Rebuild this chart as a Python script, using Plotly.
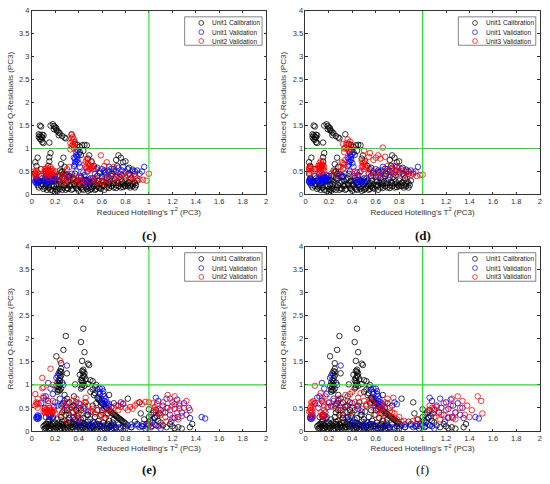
import plotly.graph_objects as go

# ---------------- data ----------------
cal_cd = [
    (0.07,1.50),(0.08,1.48),(0.06,1.31),(0.07,1.29),(0.08,1.26),(0.09,1.24),(0.07,1.21),(0.08,1.19),(0.09,1.14),
    (0.10,1.12),(0.10,1.29),(0.06,1.25),(0.09,1.30),
    (0.16,1.50),(0.18,1.53),(0.19,1.49),(0.20,1.46),(0.21,1.44),(0.21,1.40),(0.22,1.38),(0.23,1.35),(0.24,1.33),
    (0.23,1.29),(0.26,1.27),(0.28,1.24),(0.29,1.22),(0.15,1.13),(0.19,1.42),
    (0.34,1.31),(0.37,1.10),(0.39,1.08),(0.41,1.04),(0.43,1.07),(0.45,1.08),(0.47,1.07),(0.39,0.97),(0.41,0.92),
    (0.42,0.86),(0.44,0.95),
    (0.03,0.70),(0.05,0.80),(0.04,0.62),(0.08,0.55),(0.15,0.81),(0.16,0.90),(0.15,0.72),(0.14,0.62),(0.27,0.80),
    (0.25,0.66),(0.28,0.60),(0.49,0.85),(0.48,0.78),(0.51,0.72),(0.53,0.62),(0.56,0.58),(0.74,0.85),(0.76,0.80),
    (0.72,0.75),(0.78,0.70),(0.80,0.72),(0.73,0.62),(0.68,0.56),(0.83,0.58),(0.86,0.54),(0.88,0.50),(0.62,0.52),(0.70,0.50),
    (0.03,0.45),(0.04,0.35),(0.05,0.20),(0.06,0.15),(0.07,0.28),(0.08,0.40),(0.09,0.22),(0.10,0.12),
    (0.11,0.30),(0.12,0.18),(0.13,0.10),(0.14,0.25),(0.15,0.15),(0.16,0.38),(0.17,0.20),(0.18,0.08),(0.19,0.30),
    (0.20,0.12),(0.20,0.05),(0.21,0.22),(0.22,0.40),(0.23,0.15),(0.24,0.28),(0.25,0.48),(0.26,0.10),(0.27,0.33),
    (0.28,0.20),(0.29,0.45),(0.30,0.14),(0.24,0.52),(0.26,0.50),(0.22,0.08),
    (0.31,0.28),(0.32,0.40),(0.33,0.18),(0.34,0.10),(0.35,0.32),(0.36,0.22),(0.37,0.45),(0.38,0.14),(0.39,0.30),
    (0.40,0.08),(0.41,0.20),(0.42,0.36),(0.43,0.12),(0.44,0.26),(0.45,0.42),(0.46,0.15),(0.47,0.30),(0.48,0.08),
    (0.49,0.22),(0.50,0.35),(0.51,0.12),(0.52,0.28),(0.53,0.18),(0.54,0.10),(0.55,0.25),(0.56,0.40),(0.57,0.15),
    (0.58,0.22),(0.59,0.12),(0.60,0.30),
    (0.61,0.18),(0.62,0.10),(0.63,0.25),(0.64,0.35),(0.65,0.20),(0.66,0.14),(0.67,0.28),(0.68,0.40),(0.69,0.22),
    (0.70,0.15),(0.71,0.32),(0.72,0.20),(0.73,0.26),(0.74,0.18),(0.75,0.38),(0.76,0.22),(0.77,0.28),(0.78,0.16),
    (0.79,0.20),(0.80,0.30),(0.81,0.22),(0.82,0.18),(0.83,0.26),(0.84,0.20),(0.85,0.35),(0.86,0.22),(0.87,0.28),
    (0.88,0.24),(0.89,0.20),(0.90,0.30),(0.69,0.45),(0.77,0.42),(0.83,0.45),(0.58,0.46),(0.63,0.48),
    (0.12,0.22),(0.13,0.32),(0.14,0.15),(0.16,0.10),(0.17,0.28),(0.18,0.35),(0.19,0.18),(0.21,0.10),(0.22,0.30),
    (0.23,0.22),(0.24,0.12),(0.25,0.20),(0.26,0.35),(0.27,0.15),(0.28,0.40),(0.29,0.10),(0.30,0.25),(0.31,0.12),
    (0.32,0.20),(0.33,0.30),(0.34,0.22),(0.35,0.12),(0.36,0.35),(0.37,0.20),(0.38,0.28),(0.39,0.12),(0.40,0.22),
    (0.41,0.30),(0.42,0.15),(0.43,0.25),(0.44,0.10),(0.45,0.20),(0.46,0.32),(0.47,0.12),(0.48,0.28),(0.49,0.15),
    (0.50,0.10),(0.51,0.25),(0.52,0.15),(0.53,0.30),(0.54,0.22),(0.55,0.12),(0.56,0.18),(0.57,0.30),(0.58,0.14),
    (0.60,0.20),(0.61,0.28),(0.62,0.20),(0.64,0.15),(0.65,0.28),(0.66,0.22),(0.68,0.18),(0.70,0.25),(0.72,0.14),
    (0.74,0.25),(0.76,0.15),(0.78,0.24),(0.80,0.18),(0.82,0.25),(0.84,0.15),(0.86,0.18),(0.88,0.15),(0.06,0.30),
    (0.08,0.18),(0.09,0.35),(0.11,0.15),(0.20,0.40),(0.27,0.45),(0.31,0.38),(0.21,0.32),(0.15,0.35),
]

val1_cd = [
    (0.03,0.27),(0.04,0.30),(0.05,0.25),(0.04,0.33),(0.05,0.28),(0.04,0.24),(0.03,0.30),(0.05,0.32),(0.06,0.26),
    (0.10,0.30),(0.11,0.35),(0.12,0.28),(0.13,0.40),(0.14,0.32),(0.15,0.26),(0.16,0.38),(0.17,0.30),(0.18,0.42),
    (0.19,0.34),(0.20,0.28),(0.12,0.45),(0.11,0.28),(0.13,0.30),(0.14,0.38),(0.15,0.34),(0.16,0.30),(0.17,0.36),
    (0.18,0.32),(0.19,0.40),(0.13,0.25),(0.15,0.42),
    (0.36,0.62),(0.37,0.70),(0.37,0.78),(0.38,0.85),(0.38,0.92),(0.39,0.75),(0.40,0.68),(0.40,0.88),(0.36,0.80),
    (0.41,0.60),(0.37,0.65),(0.39,0.82),(0.38,0.72),
    (0.28,0.35),(0.30,0.42),(0.32,0.38),(0.34,0.45),(0.42,0.40),(0.44,0.48),(0.46,0.30),(0.48,0.25),(0.50,0.28),
    (0.46,0.22),(0.52,0.35),(0.54,0.45),(0.56,0.40),(0.58,0.50),(0.60,0.55),(0.62,0.48),(0.63,0.42),(0.65,0.52),
    (0.66,0.60),(0.68,0.45),(0.70,0.55),(0.72,0.50),(0.74,0.58),(0.75,0.45),(0.77,0.52),(0.78,0.60),(0.80,0.48),
    (0.82,0.55),(0.84,0.42),(0.86,0.50),(0.88,0.45),(0.90,0.52),(0.92,0.45),(0.94,0.50),(0.96,0.60),(0.66,0.35),
    (0.60,0.38),(0.72,0.38),(0.55,0.55),(0.47,0.50),(0.38,0.50),
    (0.42,0.28),(0.44,0.32),(0.45,0.26),(0.47,0.30),(0.49,0.32),
]

unit2_c = [
    (0.02,0.50),(0.03,0.45),(0.04,0.52),(0.03,0.40),(0.05,0.48),(0.04,0.38),(0.03,0.48),(0.04,0.44),
    (0.10,0.45),(0.11,0.55),(0.12,0.50),(0.13,0.58),(0.14,0.48),(0.15,0.52),(0.16,0.42),(0.17,0.55),(0.18,0.38),
    (0.19,0.46),(0.12,0.40),(0.14,0.36),(0.16,0.60),(0.20,0.50),(0.11,0.50),(0.12,0.56),(0.13,0.44),(0.14,0.54),
    (0.15,0.46),(0.16,0.50),(0.17,0.48),(0.18,0.52),(0.13,0.52),
    (0.34,1.30),(0.35,1.25),(0.33,1.12),(0.34,1.05),(0.36,1.00),(0.35,1.08),(0.37,1.14),(0.33,0.98),(0.36,1.20),
    (0.34,1.22),(0.35,1.15),(0.36,1.05),
    (0.45,0.65),(0.46,0.72),(0.47,0.58),(0.48,0.68),(0.49,0.55),(0.50,0.62),(0.51,0.70),(0.52,0.60),(0.53,0.55),
    (0.48,0.50),(0.47,0.78),(0.59,0.85),(0.64,0.70),(0.62,0.62),(0.46,0.60),(0.49,0.64),(0.50,0.56),(0.51,0.58),
    (0.22,0.30),(0.24,0.38),(0.26,0.25),(0.28,0.45),(0.30,0.35),(0.32,0.28),(0.34,0.40),(0.36,0.32),(0.38,0.25),
    (0.40,0.38),(0.42,0.30),(0.44,0.22),(0.55,0.25),(0.56,0.32),(0.58,0.20),(0.60,0.28),(0.62,0.35),(0.64,0.22),
    (0.66,0.30),(0.68,0.42),(0.70,0.35),(0.72,0.28),(0.74,0.40),(0.76,0.32),(0.78,0.45),(0.80,0.38),(0.82,0.42),
    (0.84,0.35),(0.86,0.30),(0.88,0.40),(0.90,0.35),(0.92,0.32),(0.95,0.32),(0.98,0.30),(1.00,0.45),(0.30,0.55),
    (0.32,0.60),(0.70,0.60),(0.40,0.30),(0.45,0.28),(0.50,0.30),(0.54,0.35),(0.26,0.40),(0.29,0.30),
]

unit3_d = [
    (0.03,0.55),(0.04,0.60),(0.05,0.50),(0.04,0.46),(0.03,0.58),(0.04,0.55),(0.05,0.58),
    (0.10,0.55),(0.11,0.62),(0.12,0.68),(0.13,0.58),(0.14,0.65),(0.15,0.70),(0.16,0.60),(0.12,0.50),(0.14,0.48),
    (0.16,0.52),(0.11,0.46),(0.15,0.55),(0.13,0.72),(0.11,0.58),(0.12,0.62),(0.13,0.64),(0.14,0.58),(0.15,0.64),
    (0.12,0.56),(0.13,0.52),
    (0.36,1.20),(0.38,1.15),(0.32,1.10),(0.34,1.02),(0.37,0.95),(0.40,1.05),(0.35,1.08),(0.39,0.98),(0.33,0.92),
    (0.35,1.12),(0.37,1.05),(0.33,1.00),(0.36,0.98),
    (0.30,0.60),(0.31,0.70),(0.32,0.55),(0.33,0.65),(0.34,0.75),(0.32,0.68),(0.33,0.58),
    (0.48,0.60),(0.49,0.68),(0.50,0.55),(0.51,0.65),(0.52,0.58),(0.48,0.72),(0.49,0.62),(0.50,0.70),(0.51,0.60),
    (0.50,0.95),(0.55,0.90),(0.66,1.02),(0.60,0.80),(0.62,0.85),(0.68,0.82),(0.58,0.75),(0.54,0.82),(0.64,0.78),
    (0.22,0.45),(0.25,0.50),(0.28,0.42),(0.40,0.45),(0.42,0.50),(0.44,0.40),(0.46,0.48),(0.54,0.45),(0.56,0.50),
    (0.58,0.42),(0.60,0.48),(0.62,0.40),(0.66,0.45),(0.70,0.50),(0.72,0.42),(0.74,0.55),(0.76,0.48),(0.78,0.52),
    (0.80,0.45),(0.82,0.50),(0.84,0.40),(0.86,0.48),(0.88,0.45),(0.90,0.42),(0.92,0.48),(0.95,0.40),(0.98,0.42),
    (1.00,0.43),(0.76,0.62),(0.80,0.58),(0.70,0.62),
]

cal_ef = [
    (0.29,2.06),(0.27,1.76),(0.21,1.62),(0.42,1.93),(0.44,2.22),(0.45,1.71),(0.43,1.52),(0.25,1.47),(0.48,1.46),
    (0.49,1.43),(0.30,1.25),(0.37,1.01),
    (0.22,0.90),(0.23,0.95),(0.24,1.00),(0.22,1.05),(0.23,1.10),(0.24,1.15),(0.25,1.20),(0.23,1.25),(0.24,1.30),
    (0.25,1.35),(0.22,0.85),(0.24,0.88),(0.26,1.05),(0.21,0.98),(0.25,0.92),(0.23,1.02),(0.24,1.08),(0.23,0.88),
    (0.25,1.28),(0.24,1.22),
    (0.42,0.92),(0.43,1.00),(0.44,1.05),(0.42,1.10),(0.43,1.15),(0.44,1.20),(0.45,1.25),(0.43,1.30),(0.44,1.33),
    (0.46,1.12),(0.45,0.98),(0.41,1.22),(0.43,1.08),(0.44,1.28),(0.43,0.95),(0.45,1.18),
    (0.50,1.10),(0.52,1.08),(0.54,0.96),(0.55,1.00),(0.48,1.02),
    (0.50,0.85),(0.53,0.78),(0.56,0.72),(0.58,0.66),(0.60,0.60),(0.62,0.55),(0.64,0.50),(0.66,0.45),(0.68,0.40),
    (0.70,0.36),(0.72,0.32),(0.74,0.28),(0.76,0.24),(0.78,0.20),(0.80,0.16),(0.55,0.60),(0.60,0.45),(0.65,0.38),
    (0.70,0.25),(0.66,0.78),(0.70,0.60),(0.82,0.70),(0.74,0.55),
    (0.52,0.90),(0.54,0.82),(0.57,0.68),(0.59,0.62),(0.61,0.58),(0.63,0.52),(0.67,0.42),(0.69,0.38),(0.71,0.34),
    (0.73,0.30),(0.75,0.26),(0.77,0.22),(0.79,0.18),
    (0.28,0.78),(0.30,0.70),(0.32,0.62),(0.35,0.55),(0.38,0.62),(0.40,0.50),(0.36,0.75),(0.27,0.60),(0.25,0.55),
    (0.10,0.10),(0.11,0.05),(0.12,0.15),(0.13,0.08),(0.14,0.20),(0.15,0.05),(0.16,0.12),(0.18,0.08),(0.20,0.18),
    (0.21,0.06),(0.22,0.25),(0.23,0.12),(0.24,0.04),(0.25,0.30),(0.26,0.15),(0.27,0.08),(0.28,0.22),(0.29,0.35),
    (0.30,0.12),(0.31,0.05),(0.32,0.28),(0.33,0.18),(0.34,0.08),(0.35,0.40),(0.36,0.15),(0.37,0.25),(0.38,0.05),
    (0.39,0.32),(0.40,0.12),(0.41,0.20),(0.42,0.45),(0.43,0.08),(0.44,0.28),(0.45,0.15),(0.46,0.05),(0.47,0.35),
    (0.48,0.20),(0.49,0.10),(0.50,0.25),(0.51,0.42),(0.52,0.08),(0.53,0.18),(0.54,0.30),(0.55,0.05),(0.56,0.15),
    (0.57,0.22),(0.58,0.10),(0.59,0.35),(0.60,0.05),(0.61,0.18),(0.62,0.12),(0.63,0.28),(0.64,0.06),(0.65,0.15),
    (0.66,0.22),(0.67,0.10),(0.68,0.05),(0.69,0.18),(0.70,0.12),(0.72,0.08),(0.74,0.14),(0.76,0.06),(0.78,0.10),
    (0.80,0.05),(0.82,0.12),(0.85,0.08),(0.18,0.30),(0.15,0.25),(0.12,0.30),(0.17,0.40),(0.30,0.45),(0.34,0.52),
    (0.45,0.55),(0.40,0.38),
    (0.11,0.12),(0.12,0.06),(0.13,0.14),(0.14,0.10),(0.15,0.15),(0.16,0.06),(0.17,0.10),(0.18,0.15),(0.19,0.05),
    (0.20,0.10),(0.21,0.14),(0.22,0.08),(0.23,0.18),(0.24,0.10),(0.25,0.06),(0.26,0.20),(0.27,0.12),(0.28,0.06),
    (0.29,0.15),(0.30,0.08),(0.31,0.18),(0.32,0.10),(0.33,0.05),(0.34,0.14),(0.35,0.08),(0.36,0.20),(0.37,0.10),
    (0.38,0.14),(0.39,0.08),(0.40,0.18),(0.41,0.06),(0.42,0.12),(0.43,0.18),(0.44,0.06),(0.45,0.10),(0.46,0.14),
    (0.47,0.08),(0.48,0.12),(0.50,0.06),(0.51,0.14),(0.52,0.10),(0.53,0.06),(0.54,0.12),(0.56,0.08),(0.58,0.14),
    (0.60,0.10),(0.62,0.06),(0.64,0.12),(0.66,0.08),(0.68,0.12),(0.70,0.06),(0.26,0.40),(0.28,0.45),(0.32,0.35),
    (0.36,0.30),(0.38,0.45),(0.48,0.35),(0.52,0.55),(0.56,0.45),(0.46,0.62),(0.58,0.80),
    (0.88,0.20),(0.90,0.15),(0.92,0.62),(0.93,0.38),(0.94,0.10),(0.96,0.25),(0.98,0.15),(1.00,0.47),(1.00,0.30),
    (1.01,0.22),(1.02,0.35),(1.03,0.18),(1.04,0.40),(1.05,0.28),(1.06,0.12),(1.07,0.32),(1.08,0.22),(1.10,0.18),
    (1.12,0.12),(1.15,0.08),(1.18,0.15),(1.20,0.10),(1.22,0.06),(1.25,0.08),(1.28,0.05),(1.35,0.08),(1.37,0.15),
    (1.02,0.10),(0.97,0.05),(1.06,0.45),(1.09,0.38),
]

val1_ef = [
    (0.30,1.42),(0.14,1.04),(0.22,1.20),(0.21,1.15),(0.27,1.00),
    (0.04,0.30),(0.05,0.26),(0.05,0.34),(0.06,0.28),(0.15,0.30),(0.16,0.34),(0.17,0.28),(0.05,0.30),(0.04,0.27),
    (0.06,0.32),(0.16,0.32),(0.15,0.35),
    (0.08,0.60),(0.10,0.72),(0.12,0.75),(0.14,0.65),(0.16,0.92),(0.18,0.80),(0.20,0.62),(0.22,0.55),(0.24,0.70),
    (0.26,0.58),(0.28,0.65),(0.30,0.50),(0.11,0.50),(0.19,0.52),
    (0.36,0.55),(0.40,0.60),(0.45,0.48),(0.48,0.42),(0.35,0.28),(0.38,0.20),
    (0.56,0.90),(0.58,0.85),(0.60,0.92),(0.61,0.80),(0.62,0.75),(0.63,0.70),(0.60,0.68),(0.64,0.62),(0.66,0.58),
    (0.68,0.52),(0.62,0.48),(0.59,0.55),(0.57,0.72),(0.76,0.62),(0.78,0.58),(0.61,0.86),(0.62,0.65),(0.65,0.55),
    (0.58,0.92),(0.63,0.58),
    (0.40,0.10),(0.45,0.12),(0.50,0.08),(0.55,0.15),(0.60,0.10),(0.65,0.06),(0.70,0.12),(0.75,0.08),(0.80,0.10),
    (0.85,0.14),(0.90,0.12),(0.92,0.08),(0.95,0.15),(0.98,0.10),(1.00,0.12),(1.02,0.08),(1.05,0.14),(1.08,0.10),
    (1.10,0.05),(0.42,0.25),(0.52,0.20),(0.50,0.12),(0.58,0.08),(0.68,0.10),(0.72,0.06),(0.85,0.08),(0.95,0.10),
    (1.00,0.16),
    (1.05,0.30),(1.06,0.72),(1.08,0.65),(1.10,0.45),(1.12,0.55),(1.14,0.40),(1.15,0.70),(1.16,0.50),(1.18,0.35),
    (1.20,0.62),(1.22,0.48),(1.24,0.68),(1.25,0.30),(1.26,0.55),(1.28,0.40),(1.30,0.60),(1.32,0.35),(1.34,0.50),
    (1.35,0.28),(1.22,0.28),(1.45,0.30),(1.48,0.27),(1.19,0.20),
]

unit2_e = [
    (0.09,1.15),(0.16,1.35),(0.24,1.53),(0.09,0.93),(0.10,0.95),(0.18,1.00),
    (0.03,0.55),(0.04,0.62),(0.05,0.70),(0.03,0.80),(0.06,0.58),(0.05,0.50),(0.04,0.58),(0.05,0.60),
    (0.10,0.42),(0.11,0.48),(0.12,0.40),(0.13,0.45),(0.14,0.38),(0.15,0.50),(0.16,0.42),(0.17,0.46),(0.18,0.40),
    (0.19,0.44),(0.20,0.38),(0.10,0.75),(0.12,0.68),(0.14,0.60),(0.18,0.65),(0.11,0.44),(0.12,0.46),(0.13,0.40),
    (0.14,0.44),(0.15,0.42),(0.16,0.46),(0.17,0.42),(0.11,0.40),
    (0.25,0.35),(0.27,0.42),(0.28,0.55),(0.30,0.62),(0.32,0.48),(0.34,0.40),(0.35,0.65),(0.37,0.52),(0.38,0.70),
    (0.40,0.45),(0.41,0.58),(0.42,0.35),(0.44,0.50),(0.45,0.62),(0.46,0.72),(0.48,0.55),(0.50,0.42),(0.52,0.48),
    (0.54,0.38),(0.36,0.30),(0.40,0.25),(0.30,0.20),
    (0.56,0.45),(0.58,0.32),(0.60,0.40),(0.62,0.28),(0.64,0.35),(0.66,0.48),(0.68,0.42),(0.70,0.50),(0.72,0.55),
    (0.74,0.45),(0.76,0.52),(0.78,0.60),(0.80,0.50),(0.82,0.45),(0.84,0.52),(0.86,0.48),(0.88,0.55),(0.90,0.60),
    (0.92,0.62),(0.94,0.58),(0.97,0.63),
    (1.00,0.15),(1.02,0.10),(1.04,0.45),(1.05,0.52),(1.06,0.40),(1.07,0.58),(1.08,0.48),(1.10,0.35),(1.12,0.62),
    (1.14,0.30),(1.16,0.78),(1.18,0.70),(1.20,0.55),(1.22,0.75),(1.24,0.40),(1.26,0.60),(1.28,0.32),(1.30,0.50),
    (1.32,0.65),(1.35,0.45),(1.10,0.12),(1.15,0.20),(1.20,0.28),(1.25,0.25),(1.03,0.60),(1.00,0.62),(1.12,0.40),
    (1.15,0.50),(1.18,0.45),(1.22,0.58),(1.26,0.48),
]

unit3_f = [
    (0.08,0.98),(0.04,0.45),(0.05,0.40),(0.06,0.35),(0.05,0.55),(0.06,0.62),(0.07,0.58),(0.04,0.50),(0.05,0.30),
    (0.07,0.65),(0.03,0.42),(0.05,0.45),(0.06,0.50),(0.05,0.62),(0.06,0.42),
    (0.13,0.82),(0.14,0.70),(0.15,0.62),(0.16,0.55),(0.13,0.40),(0.14,0.35),(0.15,0.30),(0.16,0.45),(0.17,0.75),
    (0.12,0.58),(0.14,0.32),(0.15,0.36),(0.16,0.32),
    (0.20,0.60),(0.22,0.52),(0.24,0.65),(0.26,0.48),(0.28,0.70),(0.30,0.60),(0.32,0.45),(0.34,0.78),(0.35,0.55),
    (0.36,0.65),(0.38,0.80),(0.40,0.85),(0.42,0.62),(0.44,0.55),(0.45,0.72),(0.47,0.82),(0.48,0.48),(0.50,0.65),
    (0.52,0.58),(0.38,0.40),(0.30,0.30),
    (0.55,0.70),(0.57,0.62),(0.58,0.50),(0.60,0.55),(0.62,0.45),(0.64,0.48),(0.66,0.40),(0.68,0.62),(0.70,0.35),
    (0.72,0.42),(0.74,0.30),(0.76,0.38),(0.78,0.25),(0.80,0.30),(0.82,0.20),(0.84,0.22),(0.70,0.70),(0.75,0.72),
    (0.66,0.25),(0.60,0.35),(0.92,0.22),(0.95,0.25),(0.98,0.15),(0.65,0.50),(0.67,0.55),(0.72,0.50),(0.74,0.40),
    (1.05,0.45),(1.06,0.55),(1.08,0.50),(1.10,0.48),(1.12,0.52),(1.14,0.40),(1.16,0.35),(1.18,0.60),(1.20,0.45),
    (1.22,0.30),(1.24,0.55),(1.25,0.70),(1.26,0.28),(1.28,0.40),(1.30,0.75),(1.32,0.50),(1.34,0.65),(1.36,0.35),
    (1.38,0.55),(1.40,0.30),(1.42,0.45),(1.47,0.75),(1.50,0.65),(1.51,0.38),(1.28,0.25),(1.10,0.30),(1.15,0.25),
]

panel_letters = ["(c)", "(d)", "(e)", "(f)"]
legend_names = [
    ["Unit1 Calibration", "Unit1 Validation", "Unit2 Validation"],
    ["Unit1 Calibration", "Unit1 Validation", "Unit3 Validation"],
    ["Unit1 Calibration", "Unit1 Validation", "Unit2 Validation"],
    ["Unit1 Calibration", "Unit1 Validation", "Unit3 Validation"],
]
panel_series = [
    [cal_cd, val1_cd, unit2_c],
    [cal_cd, val1_cd, unit3_d],
    [cal_ef, val1_ef, unit2_e],
    [cal_ef, val1_ef, unit3_f],
]
series_colors = ["#000000", "#0000ff", "#ff0000"]
x_ticks = [0, 0.2, 0.4, 0.6, 0.8, 1, 1.2, 1.4, 1.6, 1.8, 2]
y_ticks = [0, 0.5, 1, 1.5, 2, 2.5, 3, 3.5, 4]
limit_t2 = 1
limit_q = 1

# ---------------- layout ----------------
W, H = 550, 484
x_domains = [(30 / W, 266 / W), (305.7 / W, 541.7 / W)]
y_domains = [(1 - 194 / H, 1 - 7 / H), (1 - 435 / H, 1 - 247.3 / H)]

AX = "#333333"
FONT = "Liberation Sans, Arial, sans-serif"

fig = go.Figure()
shapes, annotations = [], []

for i in range(4):
    r, c = divmod(i, 2)
    xa = "x" if i == 0 else f"x{i+1}"
    ya = "y" if i == 0 else f"y{i+1}"
    xkey = "xaxis" if i == 0 else f"xaxis{i+1}"
    ykey = "yaxis" if i == 0 else f"yaxis{i+1}"

    for pts, col, name in zip(panel_series[i], series_colors, legend_names[i]):
        fig.add_trace(go.Scatter(
            x=[p[0] for p in pts], y=[p[1] for p in pts], mode="markers", name=name,
            xaxis=xa, yaxis=ya, showlegend=False, hoverinfo="skip",
            marker=dict(symbol="circle-open", size=5.5, color=col, line=dict(width=0.8, color=col)),
        ))

    fig.layout[xkey] = dict(
        domain=x_domains[c], anchor=ya, range=[0, 2], tickvals=x_ticks,
        ticktext=[f"{v:g}" for v in x_ticks], ticklabeloverflow="allow",
        showgrid=False, zeroline=False, showline=True, mirror="ticks", linecolor=AX, linewidth=0.8,
        ticks="inside", ticklen=2.5, tickwidth=0.6, tickcolor=AX,
        tickfont=dict(size=7.5, color=AX, family=FONT),
        title=dict(text="Reduced Hotelling's T<sup>2</sup> (PC3)", font=dict(size=8, color=AX, family=FONT), standoff=3),
    )
    fig.layout[ykey] = dict(
        domain=y_domains[r], anchor=xa, range=[0, 4], tickvals=y_ticks,
        ticktext=[f"{v:g}" for v in y_ticks], ticklabeloverflow="allow",
        showgrid=False, zeroline=False, showline=True, mirror="ticks", linecolor=AX, linewidth=0.8,
        ticks="inside", ticklen=2.5, tickwidth=0.6, tickcolor=AX,
        tickfont=dict(size=7.5, color=AX, family=FONT),
        title=dict(text="Reduced Q-Residuals (PC3)", font=dict(size=8, color=AX, family=FONT), standoff=4),
    )

    # control limits
    shapes.append(dict(type="line", xref=xa, yref=ya, x0=limit_t2, x1=limit_t2, y0=0, y1=4,
                       line=dict(color="#22e022", width=1.1), layer="above"))
    shapes.append(dict(type="line", xref=xa, yref=ya, x0=0, x1=2, y0=limit_q, y1=limit_q,
                       line=dict(color="#22e022", width=1.1), layer="above"))

    # legend box
    shapes.append(dict(type="rect", xref=xa, yref=ya, x0=1.305, x1=1.966, y0=3.25, y1=3.87,
                       line=dict(color=AX, width=0.6), fillcolor="white", layer="above"))
    rows = [3.737, 3.536, 3.343]
    for yy, col, name in zip(rows, series_colors, legend_names[i]):
        shapes.append(dict(type="circle", xref=xa, yref=ya, xsizemode="pixel", ysizemode="pixel",
                           xanchor=1.447, yanchor=yy, x0=-2.4, x1=2.4, y0=-2.4, y1=2.4,
                           line=dict(color=col, width=0.7), layer="above"))
        annotations.append(dict(xref=xa, yref=ya, x=1.525, y=yy, text=name, showarrow=False,
                                xanchor="left", yanchor="middle",
                                font=dict(size=6.5, color="#222222", family=FONT)))

    # panel letter
    cx = (x_domains[c][0] + x_domains[c][1]) / 2
    ly = 1 - (236 if r == 0 else 474) / H
    letter = panel_letters[i]
    annotations.append(dict(xref="paper", yref="paper", x=cx, y=ly, text=letter if i == 3 else f"<b>{letter}</b>",
                            showarrow=False, xanchor="center", yanchor="middle",
                            font=dict(size=13, color="#111111", family="Liberation Serif, Times New Roman, serif")))

fig.update_layout(
    width=W, height=H, margin=dict(l=0, r=0, t=0, b=0),
    paper_bgcolor="white", plot_bgcolor="white",
    shapes=shapes, annotations=annotations, showlegend=False,
)

fig.write_html("out.html", config={"displayModeBar": False},
               post_script="document.body.style.margin='0px';")
